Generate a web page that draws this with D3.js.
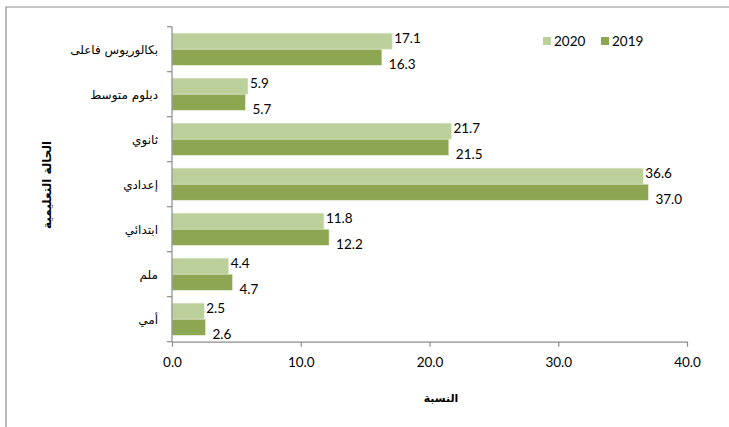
<!DOCTYPE html>
<html>
<head>
<meta charset="utf-8">
<script src="https://cdn.jsdelivr.net/npm/d3@7/dist/d3.min.js"></script>
<style>
  html, body { margin: 0; padding: 0; background: #fff; }
  svg { display: block; }
</style>
</head>
<body>
<svg id="chart" width="729" height="427"></svg>
<script>
const categories = ["بكالوريوس فاعلى", "دبلوم متوسط", "ثانوي", "إعدادي", "ابتدائي", "ملم", "أمي"];
const values2020 = [17.1, 5.9, 21.7, 36.6, 11.8, 4.4, 2.5];
const values2019 = [16.3, 5.7, 21.5, 37.0, 12.2, 4.7, 2.6];
const seriesNames = ["2020", "2019"];
const xTicks = [0, 10, 20, 30, 40];
const xTitle = "النسبة";
const yTitle = "الحالة التعليمية";

const colors = { "2020": "#bbd09a", "2019": "#8ca651" };
const numFont = "Lato, 'Open Sans', sans-serif";
const arFont = "'DejaVu Sans', sans-serif";

const svg = d3.select("#chart");
const m = { left: 172, right: 687, top: 26.7, bottom: 341.7 };

svg.append("path")
  .attr("d", "M6,430 L6,7 L735,7")
  .attr("fill", "none").attr("stroke", "#8c8c8c").attr("stroke-width", 1.2);

const x = d3.scaleLinear().domain([0, 40]).range([m.left, m.right]);
const y = d3.scaleBand().domain(categories).range([m.top, m.bottom]).paddingInner(0).paddingOuter(0);
const inner = d3.scaleBand().domain(seriesNames).range([0, y.bandwidth()]).paddingInner(0).paddingOuter(0.4);

const rows = categories.map((c, i) => ({ cat: c, "2020": values2020[i], "2019": values2019[i] }));

const g = svg.append("g");
rows.forEach(r => {
  seriesNames.forEach(s => {
    g.append("rect")
      .attr("x", x(0))
      .attr("y", y(r.cat) + inner(s))
      .attr("width", x(r[s]) - x(0))
      .attr("height", inner.bandwidth())
      .attr("fill", colors[s])
      .attr("stroke", "#e4ecd6").attr("stroke-width", 0.6);
  });
});

rows.forEach(r => {
  const y20 = y(r.cat) + inner("2020") + inner.bandwidth() / 2;
  const y19 = y(r.cat) + inner("2019") + inner.bandwidth() / 2;
  svg.append("text")
    .attr("x", x(r["2020"]) + 2).attr("y", y20 - 3).attr("dy", "0.35em")
    .attr("font-family", numFont).attr("font-size", 13.5).attr("fill", "#000")
    .text(r["2020"].toFixed(1));
  svg.append("text")
    .attr("x", x(r["2019"]) + 7).attr("y", y19 + 7).attr("dy", "0.35em")
    .attr("font-family", numFont).attr("font-size", 13.5).attr("fill", "#000")
    .text(r["2019"].toFixed(1));
});

const xAxis = svg.append("g")
  .attr("transform", `translate(0,${m.bottom})`)
  .call(d3.axisBottom(x).tickValues(xTicks).tickSize(5).tickSizeOuter(0).tickFormat(d => d.toFixed(1)));
xAxis.select(".domain").attr("stroke", "#8c8c8c").attr("stroke-width", 1.2);
xAxis.selectAll(".tick line").attr("stroke", "#8c8c8c").attr("stroke-width", 1.2);
xAxis.selectAll(".tick text").attr("font-family", numFont).attr("font-size", 13.5).attr("fill", "#000").attr("dy", "1.3em");

const yAxis = svg.append("g").attr("transform", `translate(${m.left},0)`);
yAxis.append("line").attr("x1", 0).attr("x2", 0).attr("y1", m.top).attr("y2", m.bottom)
  .attr("stroke", "#8c8c8c").attr("stroke-width", 1.2);
const bounds = categories.map(c => y(c)).concat([m.bottom]);
yAxis.selectAll("line.tk").data(bounds).enter().append("line")
  .attr("class", "tk")
  .attr("x1", -5).attr("x2", 0).attr("y1", d => d).attr("y2", d => d)
  .attr("stroke", "#8c8c8c").attr("stroke-width", 1.2);
svg.selectAll("text.cat").data(categories).enter().append("text")
  .attr("class", "cat")
  .attr("x", 158).attr("y", d => y(d) + y.bandwidth() / 2 + 1).attr("dy", "0.35em")
  .attr("text-anchor", "end")
  .attr("font-family", arFont).attr("font-size", 12).attr("fill", "#000")
  .text(d => d);

svg.append("text")
  .attr("x", 441).attr("y", 398).attr("dy", "0.35em")
  .attr("text-anchor", "middle")
  .attr("font-family", arFont).attr("font-size", 11).attr("font-weight", "bold")
  .text(xTitle);
svg.append("g").attr("transform", "translate(47,185)")
  .append("text")
  .attr("transform", "rotate(-90)")
  .attr("x", 0).attr("y", 4)
  .attr("text-anchor", "middle")
  .attr("font-family", arFont).attr("font-size", 12).attr("font-weight", "bold")
  .text(yTitle);

const legendItems = [{ s: "2020", x: 543 }, { s: "2019", x: 601 }];
legendItems.forEach(li => {
  svg.append("rect").attr("x", li.x).attr("y", 37).attr("width", 8).attr("height", 8)
    .attr("fill", colors[li.s]);
  svg.append("text").attr("x", li.x + 11).attr("y", 41.5).attr("dy", "0.35em")
    .attr("font-family", numFont).attr("font-size", 13.5).attr("fill", "#000")
    .text(li.s);
});
</script>
</body>
</html>
